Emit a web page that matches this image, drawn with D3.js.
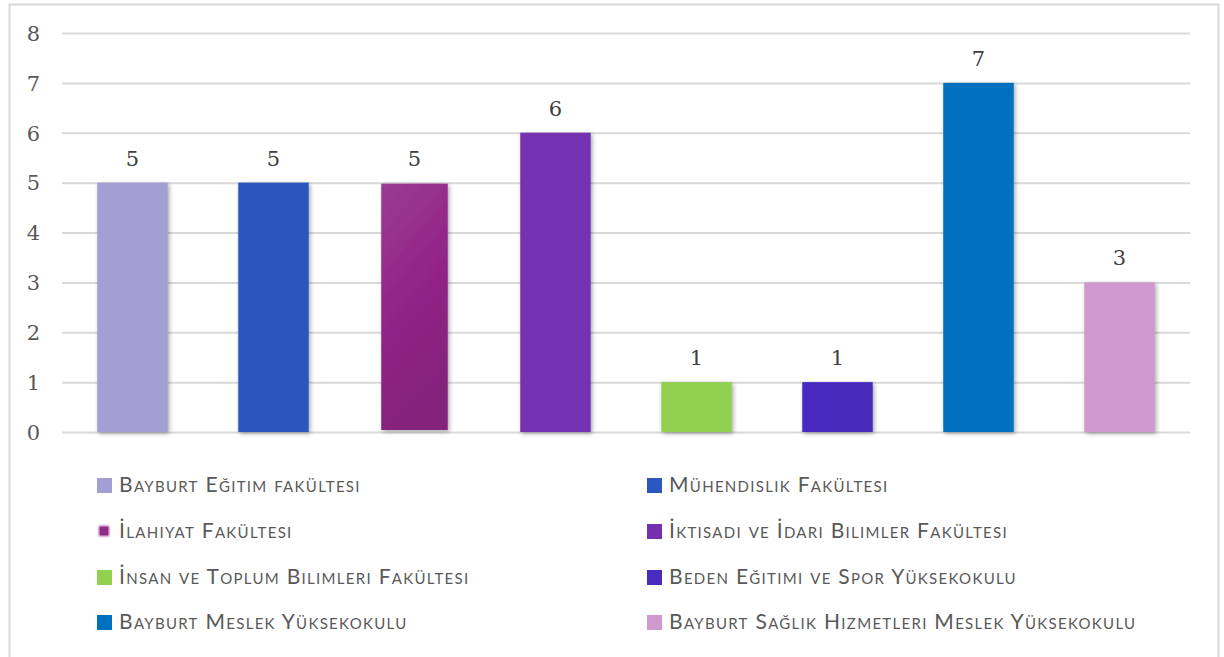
<!DOCTYPE html>
<html>
<head>
<meta charset="utf-8">
<script src="https://cdn.jsdelivr.net/npm/d3@7"></script>
<style>
  html, body { margin: 0; padding: 0; background: #ffffff; }
  svg { display: block; }
</style>
</head>
<body>
<svg id="chart" width="1224" height="657"></svg>
<script>
// ---- Data ----
const categories = [
  "Bayburt Eğitim fakültesi",
  "Mühendislik Fakültesi",
  "İlahiyat Fakültesi",
  "İktisadi ve İdari Bilimler Fakültesi",
  "İnsan ve Toplum Bilimleri Fakültesi",
  "Beden Eğitimi ve Spor Yüksekokulu",
  "Bayburt Meslek Yüksekokulu",
  "Bayburt Sağlık Hizmetleri Meslek Yüksekokulu"
];
const values = [5, 5, 5, 6, 1, 1, 7, 3];
const colors = ["#A39FD4", "#2B57BE", "#922A8C", "#7530B0", "#92D050", "#482CBE", "#0070C0", "#D09ACE"];
const yTicks = [0, 1, 2, 3, 4, 5, 6, 7, 8];

// ---- Layout ----
const svg = d3.select("#chart");
const plot = { left: 62, right: 1190, top: 33, bottom: 432 };

// outer border
svg.append("rect")
  .attr("x", 9.5).attr("y", 4.5)
  .attr("width", 1209).attr("height", 660)
  .attr("fill", "none").attr("stroke", "#d9d9d9").attr("stroke-width", 2);

const defs = svg.append("defs");
const shadow = defs.append("filter").attr("id", "shadow")
  .attr("x", "-20%").attr("y", "-10%").attr("width", "140%").attr("height", "120%");
shadow.append("feDropShadow")
  .attr("dx", 1.5).attr("dy", 1.5).attr("stdDeviation", 2)
  .attr("flood-color", "#000").attr("flood-opacity", 0.35);

const grad = defs.append("linearGradient").attr("id", "gradIlahiyat")
  .attr("x1", "0%").attr("y1", "0%").attr("x2", "30%").attr("y2", "100%");
grad.append("stop").attr("offset", "0%").attr("stop-color", "#9B3C92");
grad.append("stop").attr("offset", "50%").attr("stop-color", "#922589");
grad.append("stop").attr("offset", "100%").attr("stop-color", "#85207C");

const glow = defs.append("filter").attr("id", "glow")
  .attr("x", "-50%").attr("y", "-50%").attr("width", "200%").attr("height", "200%");
glow.append("feGaussianBlur").attr("stdDeviation", 1.2);

const x = d3.scaleBand()
  .domain(categories)
  .range([plot.left, plot.right])
  .paddingInner(0.5).paddingOuter(0.25);

const y = d3.scaleLinear()
  .domain([0, 8])
  .range([plot.bottom, plot.top]);

// gridlines
const yAxis = d3.axisLeft(y).tickValues(yTicks).tickSize(-(plot.right - plot.left)).tickFormat(d3.format("d")).tickPadding(22);
const gAxis = svg.append("g")
  .attr("transform", `translate(${plot.left},0)`)
  .call(yAxis);
gAxis.select(".domain").remove();
gAxis.selectAll(".tick line").attr("stroke", "#d9d9d9").attr("stroke-width", 2);
gAxis.selectAll(".tick text")
  .attr("fill", "#595959")
  .attr("font-family", "'DejaVu Serif', serif")
  .attr("font-size", 21)
  .attr("dy", "0.35em");

// bars
const barIdx = d3.range(categories.length);
svg.append("g").selectAll("rect")
  .data(barIdx)
  .join("rect")
  .attr("x", i => i === 2 ? x(categories[i]) + 2 : x(categories[i]))
  .attr("width", i => i === 2 ? x.bandwidth() - 4 : x.bandwidth())
  .attr("y", i => y(values[i]) + (i === 2 ? 1 : 0))
  .attr("height", i => y(0) - y(values[i]) - (i === 2 ? 3 : 0))
  .attr("fill", i => i === 2 ? "url(#gradIlahiyat)" : colors[i])
  .attr("filter", "url(#shadow)");

// value labels
svg.append("g").selectAll("text")
  .data(barIdx)
  .join("text")
  .attr("x", i => x(categories[i]) + x.bandwidth() / 2)
  .attr("y", i => y(values[i]) - 17)
  .attr("text-anchor", "middle")
  .attr("fill", "#404040")
  .attr("font-family", "'DejaVu Serif', serif")
  .attr("font-size", 21)
  .text(i => values[i]);

// legend
const legendCols = [97, 647];
const legendRows = [485, 531, 577, 622];
const lg = svg.append("g");
const items = lg.selectAll("g")
  .data(barIdx)
  .join("g")
  .attr("transform", i => `translate(${legendCols[i % 2]},${legendRows[Math.floor(i / 2)]})`);
items.append("rect")
  .attr("x", i => i === 2 ? 2 : 0)
  .attr("y", i => i === 2 ? -5 : -7)
  .attr("width", i => i === 2 ? 10 : 15)
  .attr("height", i => i === 2 ? 10 : 15)
  .attr("fill", i => colors[i])
  .attr("filter", i => i === 2 ? "url(#glow)" : null);
items.filter(i => i === 2).append("rect")
  .attr("x", 3).attr("y", -4).attr("width", 8).attr("height", 8)
  .attr("fill", colors[2]);
items.append("text")
  .attr("x", 22)
  .attr("y", 0)
  .attr("dy", "0.35em")
  .attr("fill", "#595959")
  .attr("font-family", "Lato, 'Open Sans', sans-serif")
  .attr("font-size", 21)
  .attr("letter-spacing", 1.3)
  .style("font-variant", "small-caps")
  .text(i => categories[i]);
</script>
</body>
</html>
